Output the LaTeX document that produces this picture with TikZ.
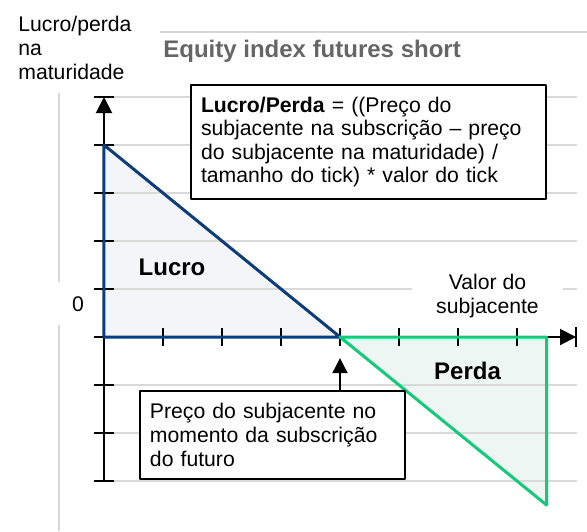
\documentclass[tikz,border=0pt]{standalone}
\usepackage{fontspec}
\setmainfont{Liberation Sans}
\usetikzlibrary{arrows.meta,positioning}
\definecolor{azul}{RGB}{12,60,122}
\definecolor{verde}{RGB}{22,200,122}
\definecolor{azulclaro}{RGB}{243,245,249}
\definecolor{verdeclaro}{RGB}{237,246,242}
\definecolor{cinza}{RGB}{217,217,217}
\definecolor{cinzatitulo}{RGB}{102,102,102}
\begin{document}
\begin{tikzpicture}[x=29.5pt,y=24pt,line join=round,font=\fontsize{10.6}{12}\selectfont,
		>={Triangle[length=8pt,width=8pt]},
		grelha/.style={cinza,line width=1pt},
		eixo/.style={black,line width=1pt},
		rotulo/.style={font=\fontsize{12}{14}\selectfont\bfseries},
		caixa/.style={draw,line width=1pt,fill=white,align=left,inner xsep=5pt}]
			\useasboundingbox (-1.7627,-4.0417) rectangle (8.1864,7.0208);
			\coordinate (O) at (0,0);
			\coordinate (topo) at (0,4);
			\coordinate (apex) at (4,0);
			\coordinate (gd) at (7.5,0);
			\coordinate (gb) at (7.5,-3.5);
			\coordinate (seta) at (4,-0.44);
			% Preenchimento
			\fill[azulclaro] (topo) -- (O) -- (apex) -- cycle;
			\fill[verdeclaro] (apex) -- (gd) -- (gb) -- cycle;
			% Grelha
			\draw[grelha] (0.95,6.354) -- (8.19,6.354);
			\draw[grelha] (-0.763,5.083) -- (-0.763,1.146);
			\draw[grelha] (-0.763,0.25) -- (-0.763,-4.04);
			\foreach \y in {5,4,3,2,1,-1,-2,-3}
				\draw[grelha] (0.17,\y) -- (8.02,\y);
			% Eixos
			\draw[eixo,->] (0,-3) -- (0,5);
			\draw[eixo,->] (O) -- (8,0);
			\foreach \y in {-3,...,5}
				\draw[eixo] (-0.17,\y) -- (0.17,\y);
			\foreach \x in {1,...,7}
				\draw[eixo] (\x,-0.19) -- (\x,0.19);
			\draw[eixo] (8,-0.2) -- (8,0.2);
			% Lucro e perda
			\draw[azul,line width=1.5pt] (topo) -- (O) -- (apex) -- cycle;
			\draw[verde,line width=1.5pt] (apex) -- (gd) -- (gb) -- cycle;
			\node[rotulo] (lucro) at (1.153,1.448) {Lucro};
			\node[rotulo] (perda) at (6.161,-0.698) {Perda};
			% Textos
			\node[anchor=north west,inner sep=0pt,align=left] (ylabel) at (-1.458,6.6875) {Lucro/perda\\na\\maturidade};
			\node[rotulo,cinzatitulo,anchor=base west,inner sep=0pt] (titulo) at (1.0,5.833) {Equity index futures short};
			\node (zero) at (-0.44,0.6875) {0};
			\node[fill=white,inner sep=0pt,minimum width=75.5pt,align=center] (valor) at (6.5,0.8625) {Valor do\\subjacente};
			\node[caixa,anchor=north west,text width=167.5pt,minimum height=57pt,font=\fontsize{10.6}{11.75}\selectfont] (formula) at (1.458,5.271)
				{\textbf{Lucro/Perda} = ((Preço do\\subjacente na subscrição – preço\\do subjacente na maturidade) /\\tamanho do tick) * valor do tick};
			\node[caixa,anchor=north west,text width=122.5pt,minimum height=44pt] (preco) at (0.593,-1.104)
				{Preço do subjacente no\\momento da subscrição\\do futuro};
			\draw[eixo,->,>={Triangle[length=7.5pt,width=7.5pt]}] (preco.north -| seta) -- (seta);
\end{tikzpicture}
\end{document}
